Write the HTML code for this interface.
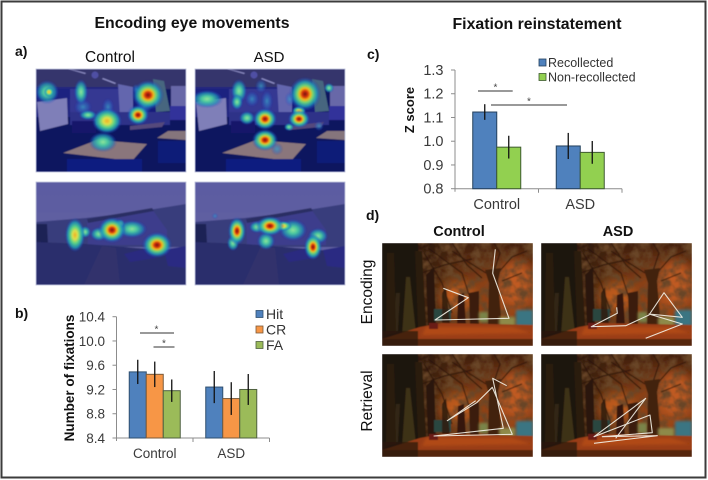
<!DOCTYPE html>
<html>
<head>
<meta charset="utf-8">
<title>Encoding eye movements and fixation reinstatement</title>
<style>
html,body{margin:0;padding:0;background:#fff;width:708px;height:480px;overflow:hidden}
svg{display:block}
text{font-family:"Liberation Sans",sans-serif}
</style>
</head>
<body>
<svg id="fig" width="708" height="480" viewBox="0 0 708 480" xmlns="http://www.w3.org/2000/svg">
<defs>
<filter id="b1" x="-10%" y="-10%" width="120%" height="120%"><feGaussianBlur stdDeviation="0.6"/></filter>
<filter id="b2" x="-20%" y="-20%" width="140%" height="140%"><feGaussianBlur stdDeviation="1.4"/></filter>
<filter id="b3" x="-40%" y="-40%" width="180%" height="180%"><feGaussianBlur stdDeviation="5"/></filter>
<filter id="leaf" x="0" y="0" width="100%" height="100%">
<feTurbulence type="fractalNoise" baseFrequency="0.11" numOctaves="3" seed="7"/>
<feColorMatrix values="0 0 0 0 0.14  0 0 0 0 0.06  0 0 0 0 0.02  2.6 0 0 0 -0.95"/>
</filter>
<radialGradient id="hot">
<stop offset="0" stop-color="#741806"/><stop offset=".18" stop-color="#d4300c"/><stop offset=".34" stop-color="#f0b81c"/>
<stop offset=".5" stop-color="#70d474"/><stop offset=".72" stop-color="#1f9fb8" stop-opacity=".85"/><stop offset="1" stop-color="#2030c0" stop-opacity="0"/>
</radialGradient>
<radialGradient id="warm">
<stop offset="0" stop-color="#eeb028"/><stop offset=".25" stop-color="#dce04c"/><stop offset=".5" stop-color="#58d088"/>
<stop offset=".75" stop-color="#1f9fb8" stop-opacity=".8"/><stop offset="1" stop-color="#2030c0" stop-opacity="0"/>
</radialGradient>
<radialGradient id="cool">
<stop offset="0" stop-color="#8ee49a"/><stop offset=".35" stop-color="#48c4a0"/><stop offset=".7" stop-color="#1f90b8" stop-opacity=".7"/>
<stop offset="1" stop-color="#2030c0" stop-opacity="0"/>
</radialGradient>
<radialGradient id="weak">
<stop offset="0" stop-color="#3aa0c8" stop-opacity=".75"/><stop offset=".6" stop-color="#2a70c8" stop-opacity=".4"/><stop offset="1" stop-color="#2030c0" stop-opacity="0"/>
</radialGradient>
<linearGradient id="sky" x1="0" y1="0" x2="0" y2="1"><stop offset="0" stop-color="#5c5ca2"/><stop offset="1" stop-color="#62629f"/></linearGradient>
<linearGradient id="canopy" x1="0" y1="0" x2="1" y2="0">
<stop offset="0" stop-color="#26170a"/><stop offset=".3" stop-color="#40230e"/><stop offset=".5" stop-color="#743813"/><stop offset=".8" stop-color="#9c481a"/><stop offset="1" stop-color="#8c4018"/>
</linearGradient>
<linearGradient id="canopyTop" x1="0" y1="0" x2="0" y2="1">
<stop offset="0" stop-color="#2c160a" stop-opacity=".8"/><stop offset="1" stop-color="#2c160a" stop-opacity="0"/>
</linearGradient>
<symbol id="classroom" viewBox="0 0 150 103" preserveAspectRatio="none">
<g filter="url(#b1)">
<rect width="150" height="103" fill="#10185e"/>
<rect width="150" height="20" fill="#34346c"/>
<rect x="0" y="18" width="85" height="30" fill="#242780"/>
<rect x="34" y="20" width="50" height="24" fill="#353892"/>
<rect x="0" y="20" width="34" height="10" fill="#1c2080"/>
<polygon points="82,15 97,18 97,48 84,48" fill="#6466ae"/>
<rect x="97" y="18" width="27" height="25" fill="#181a7a"/>
<polygon points="117,10 128,12 134,42 120,43" fill="#46667f"/>
<rect x="135" y="17" width="15" height="20" fill="#6868a8"/>
<rect x="134" y="37" width="16" height="14" fill="#30339a"/>
<polygon points="1,33 31,29 32,55 4,62" fill="#7f7fb8"/>
<rect x="34" y="43" width="100" height="13" fill="#2e3088"/>
<polygon points="36,52 60,52 60,64 36,64" fill="#14186a"/>
<polygon points="94,57 129,53 126,58 94,61" fill="#544a7c"/>
<polygon points="27,84 61,71 111,75 96,92" fill="#8a767c"/>
<polygon points="121,69 132,62 150,62 150,71" fill="#85747c"/>
<rect x="31" y="90" width="75" height="13" fill="#0e1f80"/>
<rect x="122" y="72" width="28" height="22" fill="#0e1f78"/>
<polygon points="32,0 34,0 50,4 49,5" fill="#9090c8"/>
<polygon points="66,10 67,9 80,14 79,15" fill="#9090c8"/>
<circle cx="59" cy="6" r="3.5" fill="#5050a4"/>
</g>
</symbol>
<symbol id="landscape" viewBox="0 0 150 103" preserveAspectRatio="none">
<g filter="url(#b1)">
<rect width="150" height="103" fill="url(#sky)"/>
<polygon points="0,40 50,36 100,30 150,22 150,65 0,65" fill="#393c7c"/>
<polygon points="51,38 116,27 131,48 131,63 52,63" fill="#3c3e8c"/>
<polygon points="51,37 116,26 118,29 52,41" fill="#2c2e64"/>
<polygon points="0,42 11,42 12,62 0,62" fill="#1e2254"/>
<polygon points="0,60 50,62 100,66 150,70 150,103 0,103" fill="#2a2e6c"/>
<polygon points="48,103 66,64 80,66 84,103" fill="#33336c"/>
<polygon points="88,72 112,66 120,76 94,80" fill="#2a2c80"/>
<polygon points="128,68 150,64 150,86 132,84" fill="#2a2c82"/>
</g>
</symbol>
<symbol id="autumn" viewBox="0 0 151 103" preserveAspectRatio="none">
<g filter="url(#b1)">
<rect width="151" height="103" fill="url(#canopy)"/>
<rect width="151" height="40" fill="url(#canopyTop)"/>
<ellipse cx="76" cy="54" rx="18" ry="15" fill="#bc5a1c" filter="url(#b3)"/>
<ellipse cx="134" cy="40" rx="17" ry="22" fill="#c05a20" filter="url(#b3)"/>
<rect width="151" height="103" filter="url(#leaf)"/>
<g stroke="#2a1408" fill="none" stroke-width="1.2" opacity=".75">
<path d="M42,10 L60,40 L70,70"/><path d="M46,5 L80,30 L88,55"/><path d="M70,0 L85,22 L100,35"/><path d="M104,30 L88,20 L70,8"/>
<path d="M116,30 L130,14 L145,8"/><path d="M112,28 L118,10 L112,0"/><path d="M40,30 L62,22 L90,16"/><path d="M120,38 L140,30"/>
</g>
<polygon points="0,0 36,0 38,90 0,96" fill="#1e1308"/>
<polygon points="24,34 28,34 34,90 20,92" fill="#3c3018"/>
<polygon points="14,50 18,50 16,88 10,90" fill="#332814"/>
<polygon points="5,10 12,10 14,90 4,92" fill="#2c1e0d"/>
<polygon points="33,8 40,8 44,84 36,86" fill="#2a1a0b"/>
<polygon points="44,32 52,24 54,84 46,84" fill="#2a180a"/>
<polygon points="52,66 69,66 69,78 52,78" fill="#2c4640"/>
<polygon points="60,50 64,44 68,82 60,82" fill="#2e1a0a" opacity=".85"/>
<polygon points="76,52 82,50 84,84 75,84" fill="#34190a"/>
<polygon points="87,50 97,48 97,82 88,82" fill="#3a1e0c"/>
<rect x="97" y="69" width="9" height="10" fill="#7a8448" filter="url(#b2)"/>
<polygon points="103,27 119,25 116,38 120,86 106,86 107,40" fill="#42200e"/>
<rect x="134" y="67" width="17" height="16" fill="#3a7482" filter="url(#b2)"/>
<rect x="117" y="74" width="16" height="9" fill="#8e8a48" filter="url(#b2)"/>
<polygon points="0,96 38,84 60,80 151,82 151,103 0,103" fill="#9a3e16"/>
<polygon points="44,84 130,84 150,90 40,92" fill="#b04a16" filter="url(#b2)"/>
<rect x="47" y="80" width="9" height="6" fill="#6a1a12"/>
<rect x="0" y="96" width="151" height="7" fill="#4a2210" opacity=".85"/>
<rect x="0" y="88" width="36" height="15" fill="#2a180a" opacity=".75"/>
</g>
</symbol>
</defs>

<rect x="1.5" y="1.5" width="704" height="476" fill="#fff" stroke="#3c3c3c" stroke-width="2"/>

<text x="192" y="28" text-anchor="middle" font-size="15.5" font-weight="bold" fill="#111" textLength="195" lengthAdjust="spacingAndGlyphs">Encoding eye movements</text>
<text x="537" y="29" text-anchor="middle" font-size="15.5" font-weight="bold" fill="#111" textLength="169" lengthAdjust="spacingAndGlyphs">Fixation reinstatement</text>

<text x="15" y="56" font-size="14" font-weight="bold" fill="#111">a)</text>
<text x="110" y="62" text-anchor="middle" font-size="15.5" fill="#111">Control</text>
<text x="269" y="62" text-anchor="middle" font-size="15" fill="#111">ASD</text>
<text x="15" y="318" font-size="14" font-weight="bold" fill="#111">b)</text>
<text x="367" y="59" font-size="14" font-weight="bold" fill="#111">c)</text>
<text x="366" y="220" font-size="14" font-weight="bold" fill="#111">d)</text>
<text x="459" y="236" text-anchor="middle" font-size="14.5" font-weight="bold" fill="#111">Control</text>
<text x="618" y="236" text-anchor="middle" font-size="14.5" font-weight="bold" fill="#111">ASD</text>
<text transform="translate(372,292) rotate(-90)" text-anchor="middle" font-size="15.5" fill="#111">Encoding</text>
<text transform="translate(372,401) rotate(-90)" text-anchor="middle" font-size="15.5" fill="#111">Retrieval</text>

<g id="heatmaps"></g>
<g id="scanpaths"></g>
<g id="chartB"></g>
<g id="chartC"></g>
</svg>

<script>
// Chart b values
const bGroups = ['Control', 'ASD'];
const bSeriesNames = ['Hit', 'CR', 'FA'];
const bHit = [9.49, 9.24];
const bCR = [9.45, 9.05];
const bFA = [9.18, 9.20];
const bHitErr = [0.20, 0.265];
const bCRErr = [0.21, 0.27];
const bFAErr = [0.185, 0.255];
const bTicks = ['8.4', '8.8', '9.2', '9.6', '10.0', '10.4'];

// Chart c values
const cGroups = ['Control', 'ASD'];
const cSeriesNames = ['Recollected', 'Non-recollected'];
const cRecollected = [1.123, 0.98];
const cNonRecollected = [0.975, 0.953];
const cRecollectedErr = [0.033, 0.055];
const cNonRecollectedErr = [0.048, 0.048];
const cTicks = ['0.8', '0.9', '1.0', '1.1', '1.2', '1.3'];

// Heatmap hot spots: image index, kind, centre, radii (within a 150x103 image)
const heatSpots = [
  [0,'cool',11,23,12,12],[0,'warm',13,23,5,5],[0,'cool',45,23,7,13],[0,'weak',47,38,9,8],[0,'hot',112,26,16,15],[0,'warm',71,52,15,13],
  [0,'hot',102,46,11,10],[0,'cool',52,46,9,5],[0,'cool',67,73,14,10],[0,'weak',72,38,6,9],[0,'weak',108,38,8,8],[0,'weak',100,20,4,5],
  [1,'cool',12,30,16,9],[1,'cool',44,22,8,12],[1,'cool',42,33,6,8],[1,'weak',66,17,6,7],[1,'weak',57,30,7,8],[1,'weak',72,32,6,11],
  [1,'hot',110,25,16,17],[1,'cool',134,19,5,5],[1,'hot',70,50,12,11],[1,'cool',52,49,8,7],[1,'hot',104,50,11,9],[1,'warm',104,42,7,5],
  [1,'cool',94,58,5,4],[1,'hot',70,71,13,11],[1,'weak',82,80,6,6],[1,'weak',124,57,5,5],[1,'weak',95,30,5,7],
  [2,'warm',39,53,10,17],[2,'cool',49,50,6,6],[2,'hot',76,48,14,13],[2,'cool',96,47,15,9],[2,'cool',63,52,9,7],[2,'hot',121,63,15,13],[2,'cool',84,42,5,5],
  [3,'hot',42,49,9,14],[3,'cool',38,61,6,8],[3,'hot',75,44,14,10],[3,'warm',88,44,9,5],[3,'cool',71,59,9,9],[3,'cool',98,48,14,11],[3,'cool',62,45,8,6],[3,'hot',118,65,9,13],[3,'cool',123,54,10,8],[3,'weak',20,34,3,3]
];
// Scan paths (page-scale thirds relative to x=354, y=210)
const gazeLines = [
  [[424,118],[416,190],[465,325],[243,330],[343,263],[268,235]],
  [[788,292],[790,310],[712,350],[815,347],[885,315],[930,248],[985,322],[885,312],[985,342],[875,385]],
  [[458,527],[416,505],[448,655],[240,678],[475,673],[415,532],[368,578],[280,632],[365,572]],
  [[720,700],[910,677],[745,680],[895,668],[888,615],[720,680],[875,565],[785,685]]
];

const NS = 'http://www.w3.org/2000/svg';
function mk(parent, tag, attrs, txt) {
  const el = document.createElementNS(NS, tag);
  for (const k in attrs) el.setAttribute(k, attrs[k]);
  if (txt !== undefined) el.textContent = txt;
  parent.appendChild(el);
  return el;
}

// Heatmap images
const heatBoxes = [[36,69,'classroom'],[195,69,'classroom'],[36,182,'landscape'],[195,182,'landscape']];
const heatOrder = {weak: 0, cool: 1, warm: 2, hot: 3};
const heatRoot = document.getElementById('heatmaps');
heatBoxes.forEach(function (b, i) {
  const g = mk(heatRoot, 'g', {transform: 'translate(' + b[0] + ',' + b[1] + ')'});
  
  
  mk(g, 'use', {href: '#' + b[2], width: 150, height: 103});
  const clipId = 'hc' + i;
  const cp = mk(g, 'clipPath', {id: clipId});
  mk(cp, 'rect', {width: 150, height: 103});
  const clipG = mk(g, 'g', {'clip-path': 'url(#' + clipId + ')'});
  const spots = mk(clipG, 'g', {filter: 'url(#b1)'});
  heatSpots.filter(function (s) { return s[0] === i; })
    .sort(function (p, q) { return heatOrder[p[1]] - heatOrder[q[1]]; })
    .forEach(function (s) {
      const e = mk(spots, 'ellipse', {cx: s[2], cy: s[3], rx: s[4], ry: s[5], fill: 'url(#' + s[1] + ')'});
      
      
    });
  mk(g, 'rect', {x: 0, y: 0, width: 150, height: 103, fill: 'none', stroke: '#b8bcd8', 'stroke-width': 0.8});
});

// Scan path images
const photoBoxes = [[382,243],[541,243],[382,354],[541,354]];
const scanRoot = document.getElementById('scanpaths');
photoBoxes.forEach(function (b, i) {
  const im = mk(scanRoot, 'use', {href: '#autumn', x: b[0], y: b[1], width: 151, height: 103});
  
  
});
gazeLines.forEach(function (line) {
  const pts = line.map(function (p) { return (354 + p[0] / 3).toFixed(1) + ',' + (210 + p[1] / 3).toFixed(1); }).join(' ');
  const l = mk(scanRoot, 'polyline', {points: pts, fill: 'none', stroke: '#f4f2e8', 'stroke-width': 1.1, 'stroke-linejoin': 'round', opacity: .9});
  
  
});

// Generic chart drawing
function drawBars(root, opt) {
  const n = opt.ticks.length;
  const lo = parseFloat(opt.ticks[0]);
  const hi = parseFloat(opt.ticks[n - 1]);
  const yS = function (v) { return opt.y0 + (v - lo) / (hi - lo) * (opt.y1 - opt.y0); };
  const axis = mk(root, 'g', {stroke: '#8c8c8c', 'stroke-width': 1, fill: 'none'});
  
  
  mk(axis, 'line', {x1: opt.x0, x2: opt.x0, y1: opt.y0 + 3, y2: opt.y1});
  mk(axis, 'line', {x1: opt.x0, x2: opt.x1, y1: opt.y0, y2: opt.y0});
  opt.groups.forEach(function (_, i) {
    const tx = opt.x0 + (opt.x1 - opt.x0) * (i + 1) / opt.groups.length;
    mk(axis, 'line', {x1: tx, x2: tx, y1: opt.y0, y2: opt.y0 + 4});
  });
  opt.ticks.forEach(function (t) {
    const y = yS(parseFloat(t));
    mk(axis, 'line', {x1: opt.x0 - 4, x2: opt.x0, y1: y, y2: y});
    const lab = mk(root, 'text', {x: opt.x0 - 11.5, y: y + 5, 'text-anchor': 'end', 'font-size': opt.tickSize, fill: '#3a3a3a'}, t);
    
    
  });
  const gw = (opt.x1 - opt.x0) / opt.groups.length;
  opt.groups.forEach(function (name, gi) {
    const cx = opt.x0 + gw * (gi + 0.5);
    const total = opt.barW * opt.series.length;
    opt.series.forEach(function (s, si) {
      const x = cx - total / 2 + si * opt.barW;
      const v = s.values[gi];
      const r = mk(root, 'rect', {x: x, y: yS(v), width: opt.barW, height: opt.y0 - yS(v), fill: s.fill, stroke: s.stroke, 'stroke-width': 1});
      
      
    });
    opt.series.forEach(function (s, si) {
      const x = cx - total / 2 + (si + 0.5) * opt.barW;
      const v = s.values[gi], e = s.errs[gi];
      const ln = mk(root, 'line', {x1: x, x2: x, y1: yS(v + e), y2: yS(v - e), stroke: '#111', 'stroke-width': 1.3});
      
      
    });
    const lab = mk(root, 'text', {x: cx, y: opt.labelY, 'text-anchor': 'middle', 'font-size': opt.tickSize, fill: '#3a3a3a'}, name);
    
    
  });
}
function sigBar(root, x1, x2, y, sx) {
  const l = mk(root, 'line', {x1: x1, x2: x2, y1: y, y2: y, stroke: '#333', 'stroke-width': 1.1});
  
  
  const t = mk(root, 'text', {x: sx, y: y - 0.5, 'text-anchor': 'middle', 'font-size': 10, fill: '#444'}, '*');
  
  
}
function legend(root, names, fills, strokes, x, ys, size, textX) {
  names.forEach(function (nm, i) {
    const r = mk(root, 'rect', {x: x, y: ys[i] - 3.5, width: 7, height: 7, fill: fills[i], stroke: strokes[i], 'stroke-width': 0.8});
    
    
    const t = mk(root, 'text', {x: textX, y: ys[i] + size * 0.36, 'font-size': size, fill: '#333'}, nm);
    
    
  });
}

const rootB = document.getElementById('chartB');
drawBars(rootB, {
  x0: 116.5, x1: 269.5, y0: 438, y1: 316.7, barW: 17, ticks: bTicks, groups: bGroups, tickSize: 13.5, labelY: 458,
  series: [
    {name: 'Hit', values: bHit, errs: bHitErr, fill: '#4f81bd', stroke: '#2f4f6f'},
    {name: 'CR', values: bCR, errs: bCRErr, fill: '#f79646', stroke: '#7a5a3a'},
    {name: 'FA', values: bFA, errs: bFAErr, fill: '#9bbb59', stroke: '#4f6040'}
  ]
});
const titleB = mk(rootB, 'text', {transform: 'translate(74,378) rotate(-90)', 'text-anchor': 'middle', 'font-size': 13.5, 'font-weight': 'bold', fill: '#111'}, 'Number of fixations');


sigBar(rootB, 140, 174, 333, 156.5);
sigBar(rootB, 153.5, 174.5, 347, 164);
legend(rootB, bSeriesNames, ['#4f81bd', '#f79646', '#9bbb59'], ['#2f4f6f', '#7a5a3a', '#4f6040'], 256, [314, 329.5, 345], 14, 266);

const rootC = document.getElementById('chartC');
drawBars(rootC, {
  x0: 455, x1: 622, y0: 188.7, y1: 70, barW: 24, ticks: cTicks, groups: cGroups, tickSize: 14.5, labelY: 209,
  series: [
    {name: 'Recollected', values: cRecollected, errs: cRecollectedErr, fill: '#4f81bd', stroke: '#24405c'},
    {name: 'Non-recollected', values: cNonRecollected, errs: cNonRecollectedErr, fill: '#92d050', stroke: '#3e5a30'}
  ]
});
const titleC = mk(rootC, 'text', {transform: 'translate(414,110) rotate(-90)', 'text-anchor': 'middle', 'font-size': 13, 'font-weight': 'bold', fill: '#111'}, 'Z score');


sigBar(rootC, 478, 512.7, 91, 495.5);
sigBar(rootC, 491, 567, 105, 529);
legend(rootC, cSeriesNames, ['#4f81bd', '#92d050'], ['#24405c', '#3e5a30'], 539, [62.5, 77], 12.5, 548);
</script>
</body>
</html>
